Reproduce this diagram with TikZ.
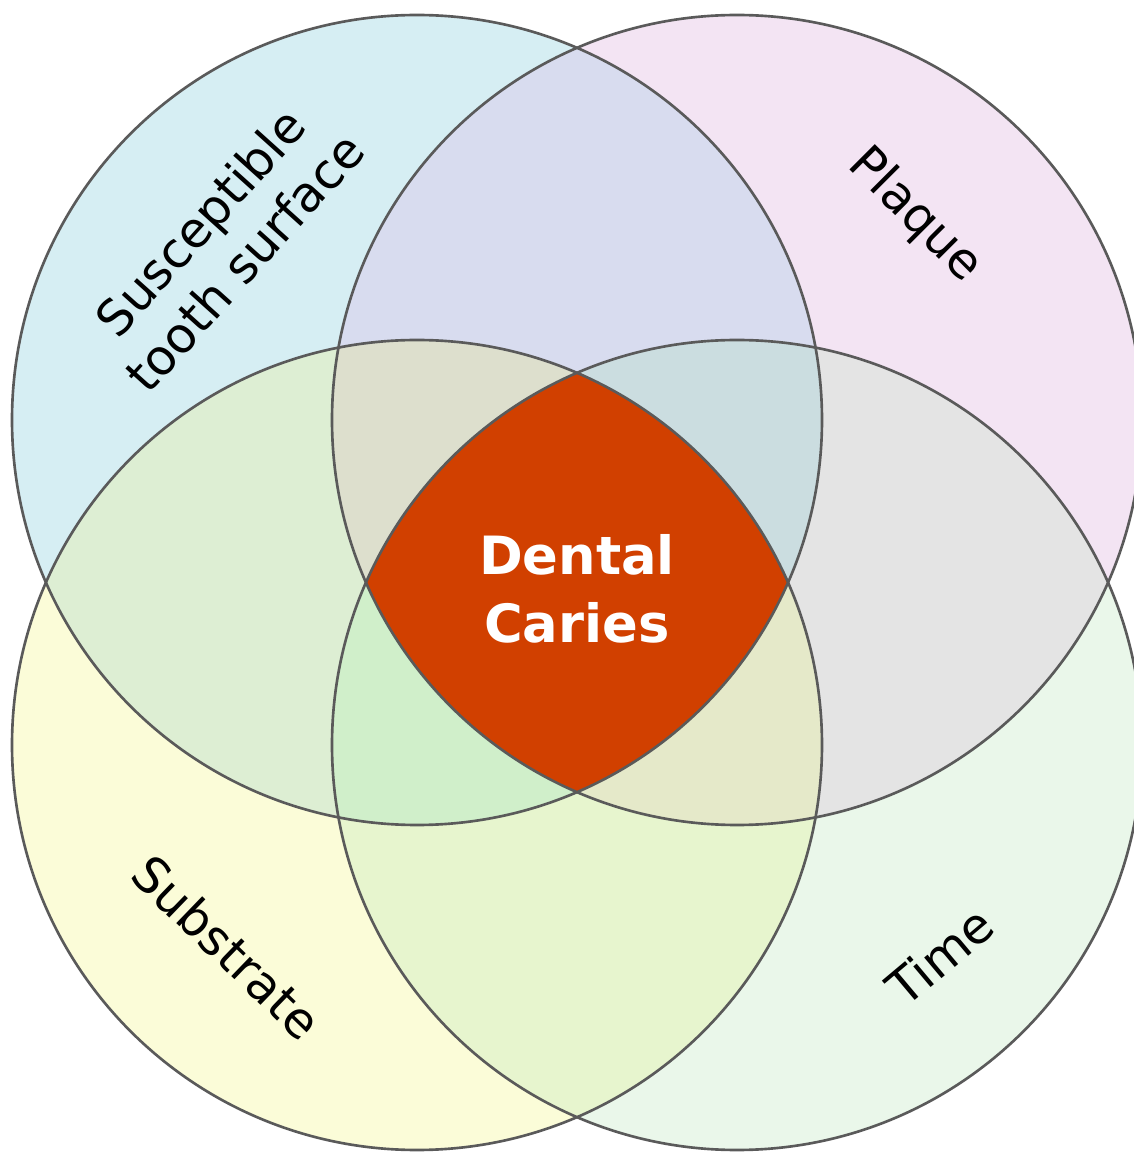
\documentclass[tikz,border=0pt]{standalone}
\usepackage{fontspec}
\setmainfont{DejaVu Sans}

% region colours
\definecolor{toothcol}{HTML}{D6EEF3}
\definecolor{plaquecol}{HTML}{F3E4F3}
\definecolor{substcol}{HTML}{FBFCD8}
\definecolor{timecol}{HTML}{EAF7EA}
\definecolor{tpcol}{HTML}{D8DCEF}
\definecolor{tscol}{HTML}{DDEED3}
\definecolor{ptcol}{HTML}{E4E4E4}
\definecolor{stcol}{HTML}{E7F5CE}
\definecolor{tpscol}{HTML}{DDDFCD}
\definecolor{tptcol}{HTML}{CBDDE0}
\definecolor{tstcol}{HTML}{D0EFCA}
\definecolor{pstcol}{HTML}{E5E9C9}
\definecolor{cariescol}{HTML}{D14000}
\definecolor{rimcol}{HTML}{5A5A5A}

\begin{document}
\begin{tikzpicture}[
        rim/.style={draw=rimcol, line width=0.75pt},
        factor/.style={font=\fontsize{14}{17}\selectfont, align=center, inner sep=0pt},
        result/.style={font=\bfseries\fontsize{15}{19.5}\selectfont, text=white, align=center}]
        \useasboundingbox (0,0) rectangle (11.34,11.54);
        \def\cTooth{(4.17,7.34) circle (4.05)}
        \def\cPlaque{(7.37,7.34) circle (4.05)}
        \def\cSubst{(4.17,4.09) circle (4.05)}
        \def\cTime{(7.37,4.09) circle (4.05)}
        % single circles
        \fill[toothcol] \cTooth;
        \fill[plaquecol] \cPlaque;
        \fill[substcol] \cSubst;
        \fill[timecol] \cTime;
        % pairs
        \begin{scope}
                \clip \cTooth;
                \fill[tpcol] \cPlaque;
                \fill[tscol] \cSubst;
        \end{scope}
        \begin{scope}
                \clip \cTime;
                \fill[ptcol] \cPlaque;
                \fill[stcol] \cSubst;
        \end{scope}
        % triples
        \begin{scope}
                \clip \cTooth; \clip \cPlaque;
                \fill[tpscol] \cSubst;
                \fill[tptcol] \cTime;
        \end{scope}
        \begin{scope}
                \clip \cSubst; \clip \cTime;
                \fill[tstcol] \cTooth;
                \fill[pstcol] \cPlaque;
        \end{scope}
        % all four
        \begin{scope}
                \clip \cTooth; \clip \cPlaque; \clip \cSubst;
                \fill[cariescol] \cTime;
        \end{scope}
        % outlines
        \draw[rim] \cTooth;
        \draw[rim] \cPlaque;
        \draw[rim] \cSubst;
        \draw[rim] \cTime;
        % labels
        \node[factor, rotate=48] (tooth) at (2.22,9.12) {Susceptible\\tooth surface};
        \node[factor, rotate=-45] (plaque) at (9.15,9.38) {Plaque};
        \node[factor, rotate=-44] (subst) at (2.27,2.07) {Substrate};
        \node[factor, rotate=40] (time) at (9.40,1.98) {Time};
        \node[result] (caries) at (5.77,5.65) {Dental\\Caries};
\end{tikzpicture}
\end{document}
